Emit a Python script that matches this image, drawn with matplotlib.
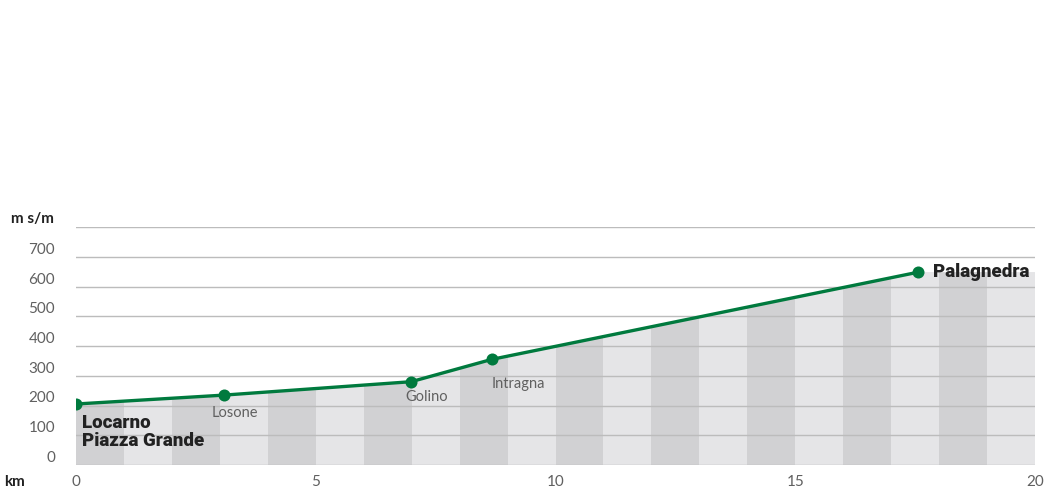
import numpy as np
import matplotlib.pyplot as plt
from matplotlib.patches import Polygon

# Elevation profile Locarno - Palagnedra
places = ["Locarno\nPiazza Grande", "Losone", "Golino", "Intragna", "Palagnedra"]
km = [0, 3.09, 6.99, 8.67, 17.56]
elev = [205, 235, 280, 355, 648]
x_end = 20
y_ticks = [0, 100, 200, 300, 400, 500, 600, 700]
x_ticks = [0, 5, 10, 15, 20]

green = "#007a3e"
dark_band = "#d1d1d3"
light_band = "#e5e5e7"
grid_col = "#bcbcbc"
text_col = "#606060"
bold_col = "#222222"

plt.rcParams['font.family'] = ['Lato', 'DejaVu Sans']
heavy = ['Roboto', 'DejaVu Sans']

fig = plt.figure(figsize=(10.44, 5.01), dpi=100)
W, H = 1044, 501
ax = fig.add_axes([76 / W, (H - 465) / H, (1035 - 76) / W, (465 - 227) / H])
ax.set_xlim(0, x_end)
ax.set_ylim(0, 800)

# area under the profile, continued flat to the end of the axis
verts = [(0, 0)] + list(zip(km, elev)) + [(x_end, elev[-1]), (x_end, 0)]
area = Polygon(verts, closed=True, facecolor=light_band, edgecolor='none', zorder=1)
ax.add_patch(area)

# alternating 1 km bands inside the area
for k in range(x_end):
    col = dark_band if k % 2 == 0 else light_band
    band = ax.axvspan(k, k + 1, color=col, lw=0, zorder=2)
    band.set_clip_path(area)

for v in y_ticks + [800]:
    ax.axhline(v, color=grid_col, lw=1, zorder=3)

ax.plot(km, elev, color=green, lw=2.4, zorder=4, solid_capstyle='round')
ax.scatter(km, elev, s=75, color=green, zorder=5, linewidths=0)

for s in ax.spines.values():
    s.set_visible(False)
ax.set_xticks([])
ax.set_yticks([])

# axis labels drawn in figure pixels
def fx(px):
    return px / W

def fy(py):
    return (H - py) / H

for v in y_ticks:
    py = 465 - v * (465 - 227) / 800
    fig.text(fx(55), fy(py - 7), str(v), ha='right', va='center',
             fontsize=11, color=text_col)
for v in x_ticks:
    px = 76 + v * (1035 - 76) / x_end
    fig.text(fx(px), fy(482), str(v), ha='center', va='center',
             fontsize=11, color=text_col)
fig.text(fx(4), fy(482), "km", ha='left', va='center', fontsize=11,
         color=bold_col, fontweight='bold')
fig.text(fx(54), fy(219), "m s/m", ha='right', va='center', fontsize=11,
         color=bold_col, fontweight='bold')

# place names
ax.annotate(places[0], (km[0], elev[0]), xytext=(4, -7), textcoords='offset points',
            ha='left', va='top', fontsize=13.5, fontweight='black', family=heavy,
            color=bold_col, linespacing=1.0, zorder=6)
ax.annotate(places[1], (km[1], elev[1]), xytext=(8, -8), textcoords='offset points',
            ha='center', va='top', fontsize=10.5, color=text_col, zorder=6)
ax.annotate(places[2], (km[2], elev[2]), xytext=(11, -6), textcoords='offset points',
            ha='center', va='top', fontsize=10.5, color=text_col, zorder=6)
ax.annotate(places[3], (km[3], elev[3]), xytext=(19, -13), textcoords='offset points',
            ha='center', va='top', fontsize=10.5, color=text_col, zorder=6)
ax.annotate(places[4], (km[4], elev[4]), xytext=(11, 0), textcoords='offset points',
            ha='left', va='center', fontsize=13.5, fontweight='black', family=heavy,
            color=bold_col, zorder=6)

fig.savefig("out.png", dpi=100)
